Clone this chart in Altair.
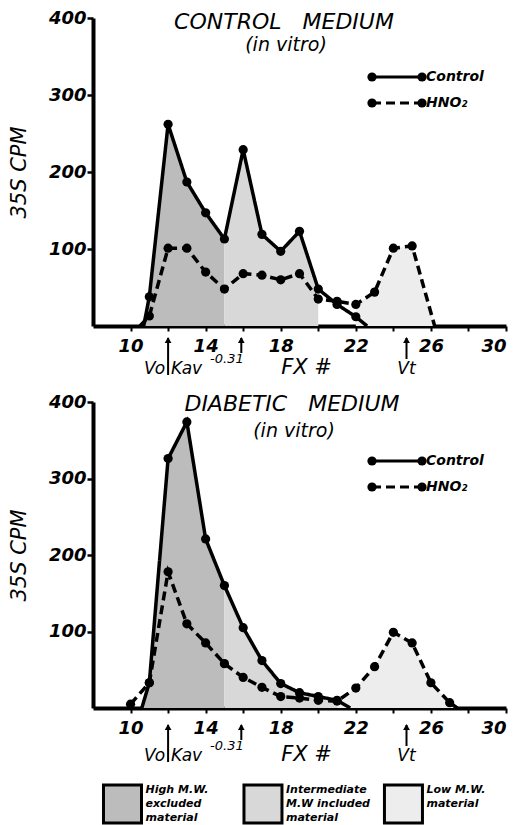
import altair as alt
import pandas as pd

FONT = "DejaVu Sans"

# ---- data (fraction number vs 35S CPM) ----
top_ctrl_x = [10.7, 11, 12, 13, 14, 15, 16, 17, 18, 19, 20, 21, 22, 22.6]
top_ctrl_y = [0, 38, 262, 187, 147, 113, 229, 119, 97, 123, 48, 28, 12, 0]
top_hno2_x = [10.5, 11, 12, 13, 14, 15, 16, 17, 18, 19, 20, 21, 22, 23, 24, 25, 26.2]
top_hno2_y = [0, 13, 101, 101, 70, 48, 68, 66, 60, 68, 35, 32, 28, 44, 101, 104, 0]

bot_ctrl_x = [10.6, 11, 12, 13, 14, 15, 16, 17, 18, 19, 20, 21, 21.7]
bot_ctrl_y = [0, 33, 326, 374, 221, 160, 105, 62, 32, 20, 15, 10, 0]
bot_hno2_x = [10, 11, 12, 13, 14, 15, 16, 17, 18, 19, 20, 21, 22, 23, 24, 25, 26, 27, 27.4]
bot_hno2_y = [5, 33, 178, 110, 85, 58, 40, 27, 15, 13, 10, 9, 26, 54, 99, 85, 33, 7, 0]

# fraction boundaries: high (ctrl) lo,hi ; inter (ctrl) hi ; low (hno2) lo,hi
top_cuts = [10.7, 15, 20, 22, 26.2]
bot_cuts = [10.6, 15, 21, 21, 27.4]

series_names = ["Control", "HNO2"]
series_labels = ["Control", "HNO\u2082"]
NB = "\u00a0\u00a0\u00a0"
top_titles = ["CONTROL" + NB + "MEDIUM", "(in vitro)"]
bot_titles = ["DIABETIC" + NB + "MEDIUM", "(in vitro)"]
fraction_keys = ["high", "inter", "low"]
fraction_labels = ["High M.W.\nexcluded\nmaterial",
                   "Intermediate\nM.W included\nmaterial",
                   "Low M.W.\nmaterial"]
fill_range = ["#bcbcbc", "#d8d8d8", "#ededed"]
x_ticks = [10, 12, 14, 16, 18, 20, 22, 24, 26, 28, 30]
y_ticks = [100, 200, 300, 400]
marker_fx = {"Vo": 12, "Kav": 15.9, "Vt": 24.7}

W = 413
x_scale = alt.Scale(domain=[8, 30], nice=False, zero=False)
y_scale = alt.Scale(domain=[0, 400], nice=False)
color_scale = alt.Scale(domain=fraction_keys, range=fill_range)
dash_scale = alt.Scale(domain=series_names, range=[[1, 0], [9, 5]])


def panel(cx, cy, hx, hy, cuts, titles, h, off, tshift):
    ctrl = pd.DataFrame({"fx": cx, "cpm": cy, "series": series_names[0]})
    hno2 = pd.DataFrame({"fx": hx, "cpm": hy, "series": series_names[1]})
    both = pd.concat([ctrl, hno2], ignore_index=True)
    parts = []
    for key, df, lo, hi in [("high", ctrl, cuts[0], cuts[1]),
                            ("inter", ctrl, cuts[1], cuts[2]),
                            ("low", hno2, cuts[3], cuts[4])]:
        parts.append(df[(df.fx >= lo) & (df.fx <= hi)].assign(fraction=key))
    reg = pd.concat(parts, ignore_index=True)

    X = alt.X("fx:Q", scale=x_scale,
              axis=alt.Axis(values=x_ticks,
                            labelExpr="datum.value % 4 == 2 ? datum.label : ''",
                            title="FX #", titleX=213, titleY=41 + off,
                            titleFontSize=21, titleFontStyle="italic",
                            titleFontWeight="normal", titleBaseline="middle",
                            titleAlign="center"))
    Y = alt.Y("cpm:Q", scale=y_scale, stack=None,
              axis=alt.Axis(values=y_ticks, title="35S CPM", titleX=-74,
                            titleY=h / 2, titleAngle=-90, titleBaseline="middle",
                            titleAlign="center", titleFontSize=21,
                            titleFontStyle="italic", titleFontWeight="normal"))

    areas = alt.Chart(reg).mark_area(interpolate="linear").encode(
        x=X, y=Y, color=alt.Color("fraction:N", scale=color_scale, legend=None))
    lines = alt.Chart(both).mark_line(color="black", strokeWidth=3.5).encode(
        x=X, y=Y, detail="series:N",
        strokeDash=alt.StrokeDash("series:N", scale=dash_scale, legend=None))
    pts = alt.Chart(both).transform_filter("datum.cpm > 0").mark_circle(
        size=85, color="black", opacity=1).encode(x=X, y=Y)

    tdf = pd.DataFrame({"t": titles})
    t1 = alt.Chart(tdf.iloc[[0]]).mark_text(
        font=FONT, fontSize=22, fontStyle="italic", align="center",
        baseline="middle").encode(text="t:N", x=alt.value(191 + tshift),
                                  y=alt.value(4 - tshift / 4))
    t2 = alt.Chart(tdf.iloc[[1]]).mark_text(
        font=FONT, fontSize=19, fontStyle="italic", align="center",
        baseline="middle").encode(text="t:N", x=alt.value(193 + tshift),
                                  y=alt.value(27 + tshift / 4))

    # in-panel legend
    leg_layers = []
    for name, lab, ly in zip(series_names, series_labels, [59, 85]):
        ldf = pd.DataFrame({"series": [name], "label": [lab]})
        leg_layers.append(alt.Chart(ldf).mark_rule(color="black", strokeWidth=3).encode(
            x=alt.value(279), x2=alt.value(329), y=alt.value(ly),
            strokeDash=alt.StrokeDash("series:N", scale=dash_scale, legend=None)))
        for px in (279, 329):
            leg_layers.append(alt.Chart(ldf).mark_circle(
                size=85, color="black", opacity=1).encode(x=alt.value(px), y=alt.value(ly)))
        leg_layers.append(alt.Chart(ldf).mark_text(
            font=FONT, fontSize=14, fontStyle="italic", fontWeight="bold",
            align="left", baseline="middle").encode(
            text="label:N", x=alt.value(333), y=alt.value(ly)))

    # elution markers (arrows + labels)
    mdf = pd.DataFrame({"name": list(marker_fx.keys()), "fx": list(marker_fx.values())})
    shaft_end = {"Vo": 49, "Kav": 27, "Vt": 33}
    shafts = [alt.Chart(mdf[mdf.name == n]).mark_rule(color="black", strokeWidth=2).encode(
        x=X, y=alt.value(h + 12 + off), y2=alt.value(h + e + off))
        for n, e in shaft_end.items()]
    heads = alt.Chart(mdf).mark_point(shape="triangle-up", filled=True, size=45,
                                      color="black", opacity=1).encode(
        x=X, y=alt.value(h + 14 + off))
    lab_style = dict(font=FONT, fontStyle="italic", baseline="middle", color="black")
    vo = alt.Chart(mdf[mdf.name == "Vo"]).mark_text(
        align="right", dx=-3, fontSize=17, **lab_style).encode(
        x=X, y=alt.value(h + 43 + off), text=alt.value("Vo"))
    kav = alt.Chart(mdf[mdf.name == "Vo"]).mark_text(
        align="left", dx=3, fontSize=17, **lab_style).encode(
        x=X, y=alt.value(h + 43 + off), text=alt.value("Kav"))
    sup = alt.Chart(mdf[mdf.name == "Vo"]).mark_text(
        align="left", dx=42, fontSize=13, **lab_style).encode(
        x=X, y=alt.value(h + 33 + off), text=alt.value("-0.31"))
    vt = alt.Chart(mdf[mdf.name == "Vt"]).mark_text(
        align="center", dx=0, fontSize=17, **lab_style).encode(
        x=X, y=alt.value(h + 43 + off), text=alt.value("Vt"))

    return alt.layer(areas, lines, pts, t1, t2, *leg_layers, *shafts, heads,
                     vo, kav, sup, vt).properties(width=W, height=h)


top = panel(top_ctrl_x, top_ctrl_y, top_hno2_x, top_hno2_y, top_cuts,
            top_titles, 308, 0, 0)
bot = panel(bot_ctrl_x, bot_ctrl_y, bot_hno2_x, bot_hno2_y, bot_cuts,
            bot_titles, 306, 5, 8)

leg_df = pd.DataFrame({"k": [0, 1, 2], "fraction": fraction_keys,
                       "label": fraction_labels})
lbase = alt.Chart(leg_df).encode(
    x=alt.X("k:Q", scale=alt.Scale(domain=[-0.21, 2.73], nice=False, zero=False),
            axis=None))
boxes = lbase.mark_square(size=1444, stroke="black", strokeWidth=3, opacity=1).encode(
    y=alt.value(20), color=alt.Color("fraction:N", scale=color_scale, legend=None))
ltext = lbase.mark_text(font=FONT, align="left", baseline="top", dx=23, fontSize=11,
                        fontWeight="bold", fontStyle="italic", lineBreak="\n",
                        lineHeight=14).encode(y=alt.value(0), text="label:N")
legend = alt.layer(boxes, ltext).properties(width=W, height=40)

chart = alt.vconcat(top, bot, legend, spacing=76, bounds="flush").properties(
    padding={"left": 8, "top": 9, "right": 5, "bottom": 4}
).configure_view(stroke=None).configure_axis(
    domainColor="black", domainWidth=4, tickColor="black", grid=False,
    labelFont=FONT, titleFont=FONT, labelColor="black", titleColor="black",
    labelFontSize=18, labelFontStyle="italic", labelFontWeight="bold"
).configure_axisY(tickSize=6, tickWidth=2.5, labelPadding=1
).configure_axisX(tickSize=5, tickWidth=2, labelPadding=6)

chart.save("out.html", embed_options={"renderer": "svg", "actions": False})
